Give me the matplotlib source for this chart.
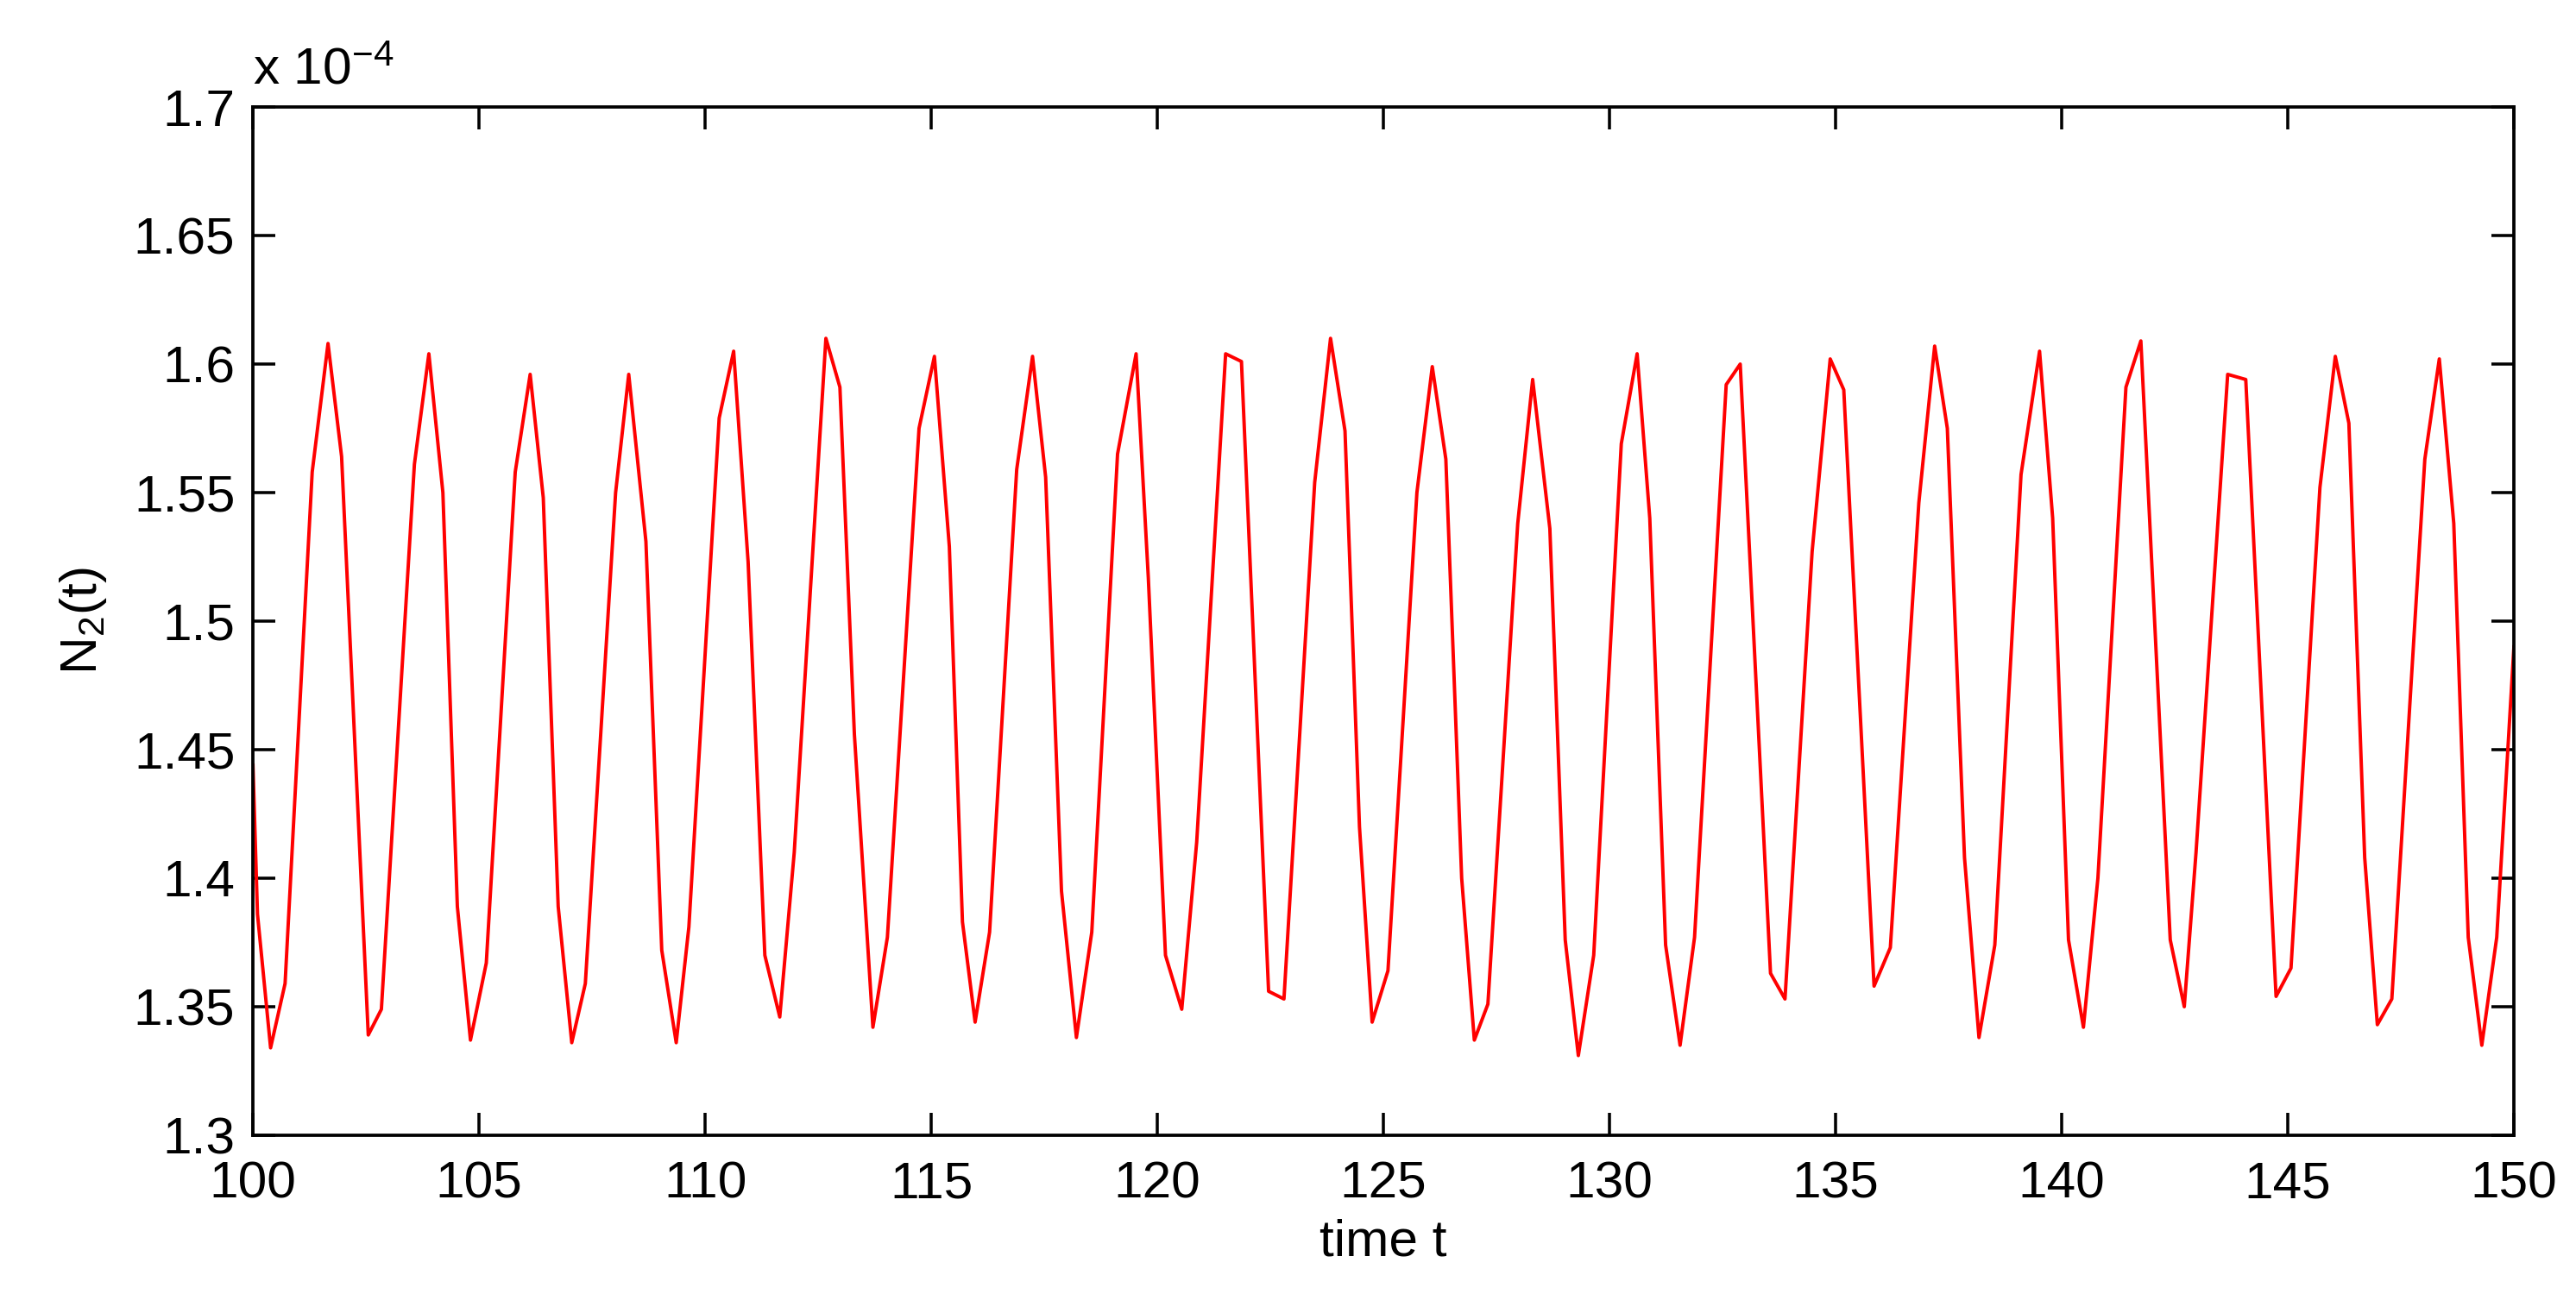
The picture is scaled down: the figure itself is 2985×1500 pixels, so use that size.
import matplotlib
matplotlib.use("Agg")
import matplotlib.pyplot as plt
import numpy as np

# sample times and N2 values in units of 1e-4
t_vals = [100.00, 100.10, 100.39, 100.71, 101.31, 101.66, 101.96, 102.55, 102.84, 103.57,
          103.89, 104.20, 104.52, 104.81, 105.16, 105.80, 106.13, 106.42, 106.75, 107.05,
          107.35, 108.02, 108.31, 108.69, 109.04, 109.36, 109.64, 110.31, 110.63, 110.95,
          111.32, 111.65, 111.97, 112.67, 112.98, 113.30, 113.71, 114.03, 114.73, 115.07,
          115.40, 115.69, 115.97, 116.29, 116.89, 117.24, 117.53, 117.88, 118.21, 118.55,
          119.12, 119.53, 119.80, 120.18, 120.54, 120.87, 121.51, 121.86, 122.46, 122.80,
          123.48, 123.83, 124.15, 124.47, 124.75, 125.10, 125.74, 126.08, 126.38, 126.73,
          127.01, 127.31, 127.97, 128.30, 128.68, 129.02, 129.31, 129.65, 130.26, 130.61,
          130.89, 131.24, 131.56, 131.88, 132.58, 132.89, 133.56, 133.88, 134.48, 134.88,
          135.18, 135.85, 136.21, 136.84, 137.19, 137.47, 137.85, 138.17, 138.52, 139.10,
          139.51, 139.80, 140.15, 140.48, 140.80, 141.42, 141.75, 142.40, 142.71, 142.97,
          143.67, 144.07, 144.74, 145.07, 145.71, 146.05, 146.35, 146.70, 146.98, 147.30,
          148.03, 148.35, 148.67, 148.99, 149.29, 149.62, 150.00]
n2_vals = [1.444, 1.386, 1.334, 1.359, 1.558, 1.608, 1.564, 1.339, 1.349, 1.561,
           1.604, 1.550, 1.389, 1.337, 1.367, 1.558, 1.596, 1.548, 1.389, 1.336,
           1.359, 1.550, 1.596, 1.531, 1.372, 1.336, 1.381, 1.579, 1.605, 1.523,
           1.370, 1.346, 1.410, 1.610, 1.591, 1.456, 1.342, 1.377, 1.575, 1.603,
           1.529, 1.383, 1.344, 1.379, 1.559, 1.603, 1.556, 1.395, 1.338, 1.379,
           1.565, 1.604, 1.517, 1.370, 1.349, 1.414, 1.604, 1.601, 1.356, 1.353,
           1.554, 1.610, 1.574, 1.420, 1.344, 1.364, 1.550, 1.599, 1.563, 1.400,
           1.337, 1.351, 1.538, 1.594, 1.536, 1.376, 1.331, 1.370, 1.569, 1.604,
           1.540, 1.374, 1.335, 1.377, 1.592, 1.600, 1.363, 1.353, 1.527, 1.602,
           1.590, 1.358, 1.373, 1.546, 1.607, 1.575, 1.408, 1.338, 1.374, 1.557,
           1.605, 1.540, 1.376, 1.342, 1.400, 1.591, 1.609, 1.376, 1.350, 1.410,
           1.596, 1.594, 1.354, 1.365, 1.552, 1.603, 1.577, 1.408, 1.343, 1.353,
           1.563, 1.602, 1.538, 1.377, 1.335, 1.377, 1.490]

y_ticks = [1.3, 1.35, 1.4, 1.45, 1.5, 1.55, 1.6, 1.65, 1.7]
y_labels = ["1.3", "1.35", "1.4", "1.45", "1.5", "1.55", "1.6", "1.65", "1.7"]
x_ticks = [100, 105, 110, 115, 120, 125, 130, 135, 140, 145, 150]

plt.rcParams["font.family"] = ["Liberation Sans", "DejaVu Sans"]
plt.rcParams["mathtext.fontset"] = "custom"
plt.rcParams["mathtext.rm"] = "Liberation Sans"
plt.rcParams["mathtext.it"] = "Liberation Sans"

fig = plt.figure(figsize=(19.9, 10), dpi=150)
ax = fig.add_axes([0.0982, 0.1227, 0.8777, 0.7946])

ax.plot(t_vals, n2_vals, color="#ff0000", linewidth=1.9)

ax.set_xlim(100, 150)
ax.set_ylim(1.3, 1.7)
ax.set_xticks(x_ticks)
ax.set_xticklabels([str(x) for x in x_ticks])
ax.set_yticks(y_ticks)
ax.set_yticklabels(y_labels)

ax.tick_params(direction="in", length=12.5, width=1.7, labelsize=29,
               top=True, right=True)
ax.tick_params(axis="y", pad=10)
ax.tick_params(axis="x", pad=14)
for s in ax.spines.values():
    s.set_linewidth(1.8)

ax.set_xlabel("time t", fontsize=29, labelpad=6)
ax.set_ylabel(r"N$_2$(t)", fontsize=29, labelpad=14)
ax.text(0.0, 1.012, r"x 10$^{-4}$", transform=ax.transAxes, fontsize=29,
        ha="left", va="bottom")

fig.savefig("out.png", dpi=150)
plt.close(fig)
